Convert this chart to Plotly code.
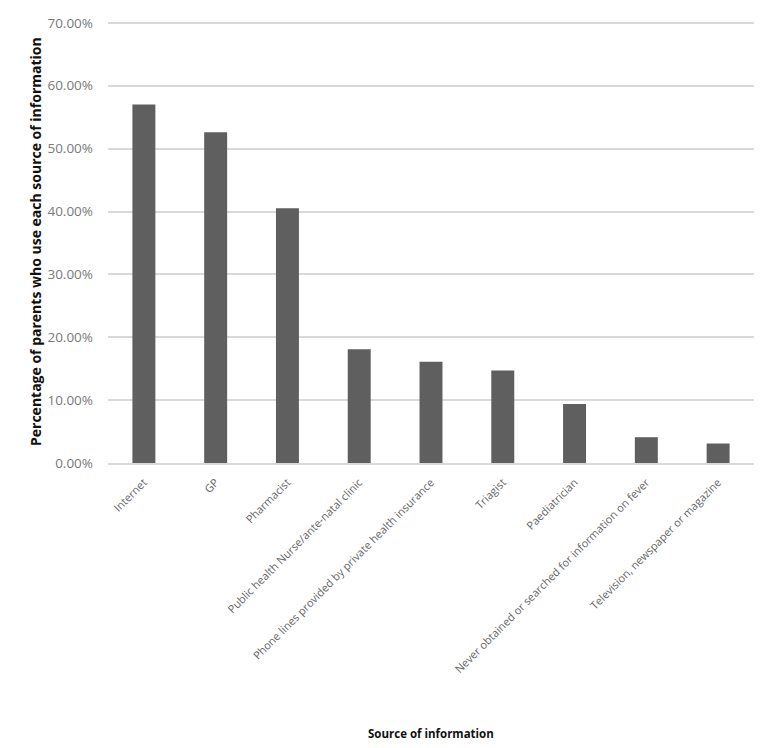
import plotly.graph_objects as go

BAR = "#5f5f5f"
GRID = "#d9d9d9"
TICK = "#666666"
FONT = "Open Sans, Liberation Sans, sans-serif"

sources = [
    "Internet",
    "GP",
    "Pharmacist",
    "Public health Nurse/ante-natal clinic",
    "Phone lines provided by private health insurance",
    "Triagist",
    "Paediatrician",
    "Never obtained or searched for information on fever",
    "Television, newspaper or magazine",
]
percent_using = [57.0, 52.6, 40.5, 18.1, 16.1, 14.7, 9.4, 4.1, 3.1]

fig = go.Figure(go.Bar(
    x=sources,
    y=percent_using,
    marker=dict(color=BAR, line=dict(width=0)),
    hovertemplate="%{x}: %{y:.2f}%<extra></extra>",
))

# the page body adds an 8px margin, so the figure is sized/offset to compensate
fig.update_layout(
    width=759,
    height=740,
    margin=dict(l=100, r=13, t=13, b=285),
    paper_bgcolor="white",
    plot_bgcolor="white",
    font=dict(family=FONT, size=12, color=TICK),
    bargap=0.68,
    showlegend=False,
    xaxis=dict(
        tickangle=-45,
        tickfont=dict(size=11, color=TICK),
        showgrid=False,
        showline=True,
        linecolor=GRID,
        linewidth=1.5,
        ticks="",
        ticklabelstandoff=7,
        automargin=False,
    ),
    yaxis=dict(
        range=[0, 70.3],
        tick0=0,
        dtick=10,
        tickformat=".2f",
        ticksuffix="%",
        tickfont=dict(size=13.5, color="#7a7a7a"),
        gridcolor=GRID,
        gridwidth=1.5,
        zeroline=False,
        ticklabelstandoff=14,
        automargin=False,
    ),
    annotations=[
        dict(
            text="<b>Percentage of parents who use each source of information</b>",
            xref="paper", yref="paper", x=0, y=0.5,
            xanchor="center", yanchor="middle", textangle=-90, showarrow=False,
            font=dict(size=14, color="#111111", family=FONT),
            xshift=-73,
        ),
        dict(
            text="<b>Source of information</b>",
            xref="paper", yref="paper", x=0.5, y=0,
            xanchor="center", yanchor="middle", showarrow=False,
            yshift=-270,
            font=dict(size=11.5, color="#111111", family=FONT),
        ),
    ],
)

fig.write_html("out.html")
